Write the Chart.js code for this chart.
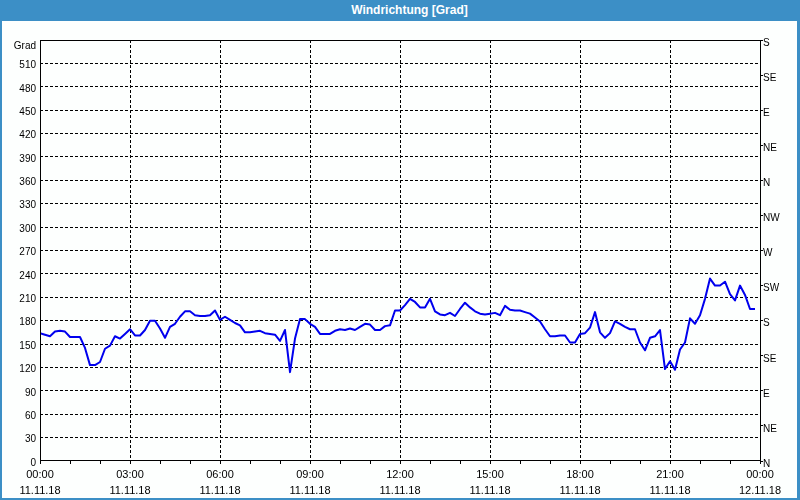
<!DOCTYPE html>
<html>
<head>
<meta charset="utf-8">
<script src="https://cdn.jsdelivr.net/npm/chart.js@4.4.1/dist/chart.umd.min.js"></script>
<style>
  html, body { margin:0; padding:0; background:#fdfffe; }
  #wrap { position:relative; width:800px; height:500px; overflow:hidden; background:#fdfffe; }
  #c { position:absolute; left:0; top:0; }
  #title { position:absolute; left:0; top:0; width:800px; height:21px; background:#3c8fc6; color:#fff;
           font:bold 12px "Liberation Sans", Arial, sans-serif; line-height:21px; text-align:center;
           box-sizing:border-box; padding-left:19px; }
  .b { position:absolute; background:#3c8fc6; }
</style>
</head>
<body>
<div id="wrap">
  <canvas id="c" width="800" height="500"></canvas>
  <div id="title">Windrichtung [Grad]</div>
  <div class="b" style="left:0;top:0;width:2px;height:500px"></div>
  <div class="b" style="left:797px;top:0;width:3px;height:500px"></div>
  <div class="b" style="left:0;top:498px;width:800px;height:2px"></div>
</div>
<script>
// ---- data ----
const sampleStartMin = 0;      // 00:00 11.11.18
const sampleStepMin = 10;      // one reading every 10 minutes
const windDirection = [
  164,162,160,166,167,166,159,159,159,145,123,123,127,144,148,160,157,163,169,161,161,168,180,180,
  170,158,172,176,185,192,192,187,186,186,187,193,181,185,181,177,174,165,165,166,167,164,163,162,
  154,168,114,157,182,182,176,172,163,163,163,167,169,168,170,168,172,176,175,168,168,173,174,193,
  193,200,208,204,197,197,208,192,188,187,190,186,195,203,197,192,189,188,189,190,187,199,194,193,
  193,191,189,184,179,169,160,160,161,161,152,152,163,164,171,191,165,158,164,179,176,172,169,169,
  152,142,158,160,168,118,128,117,143,152,183,176,187,208,234,225,225,230,214,206,225,213,195,195
];
const timeLabels = ['00:00','03:00','06:00','09:00','12:00','15:00','18:00','21:00','00:00'];
const dateLabels = ['11.11.18','11.11.18','11.11.18','11.11.18','11.11.18','11.11.18','11.11.18','11.11.18','12.11.18'];
const directionLabels = ['N','NE','E','SE','S','SW','W','NW','N','NE','E','SE','S'];
const axisUnit = 'Grad';

const points = windDirection.map((v, i) => ({ x: sampleStartMin + i * sampleStepMin, y: v }));
const FONT = '"Liberation Sans", Arial, sans-serif';
const DASH = [3, 2];

const framePlugin = {
  id: 'frame',
  beforeDraw(chart) {
    const c = chart.ctx;
    c.save();
    c.fillStyle = '#fdfffe';
    c.fillRect(0, 0, chart.width, chart.height);
    c.restore();
  },
  afterDraw(chart) {
    const c = chart.ctx, a = chart.chartArea;
    c.save();
    c.strokeStyle = '#000';
    c.lineWidth = 1;
    c.setLineDash([]);
    c.strokeRect(Math.round(a.left) + 0.5, Math.round(a.top) + 0.5,
                 Math.round(a.right - a.left), Math.round(a.bottom - a.top) - 1);
    c.fillStyle = '#000';
    c.font = '10px ' + FONT;
    c.textAlign = 'right';
    c.textBaseline = 'middle';
    c.fillText(axisUnit, a.left - 4, a.top + 6);
    c.restore();
  }
};

new Chart(document.getElementById('c').getContext('2d'), {
  type: 'line',
  data: { datasets: [{ data: points, borderColor: '#0000ee', borderWidth: 2, borderJoinStyle: 'round', pointRadius: 0, tension: 0, fill: false }] },
  options: {
    responsive: false,
    animation: false,
    events: [],
    layout: { padding: { top: 40, left: 0, right: 0, bottom: 0 } },
    plugins: { legend: { display: false }, tooltip: { enabled: false }, title: { display: false } },
    scales: {
      x: {
        type: 'linear', min: 0, max: 1440,
        afterFit(s) { s.height = 39; },
        ticks: {
          stepSize: 60, autoSkip: false, maxRotation: 0, minRotation: 0, padding: 3,
          color: '#000', font: { family: FONT, size: 11, lineHeight: 16 / 11 },
          callback: (v) => (v % 180 === 0) ? [timeLabels[v / 180], dateLabels[v / 180]] : ''
        },
        grid: {
          color: (ctx) => (ctx.tick && ctx.tick.value % 180 === 0 && ctx.tick.value > 0 && ctx.tick.value < 1440) ? '#000' : 'rgba(0,0,0,0)',
          lineWidth: 1, tickLength: 3, tickColor: '#000', tickWidth: 1
        },
        border: { display: false, dash: DASH }
      },
      y: {
        position: 'left', min: 0, max: 540,
        afterFit(s) { s.width = 40; },
        ticks: {
          stepSize: 30, padding: 4, labelOffset: 2, color: '#000', font: { family: FONT, size: 10 },
          callback: (v) => v === 540 ? '' : String(v)
        },
        grid: {
          drawTicks: false,
          color: (ctx) => (ctx.tick && ctx.tick.value > 0 && ctx.tick.value < 540) ? '#000' : 'rgba(0,0,0,0)',
          lineWidth: 1
        },
        border: { display: false, dash: DASH }
      },
      y2: {
        position: 'right', min: 0, max: 540,
        afterFit(s) { s.width = 40; },
        ticks: {
          stepSize: 45, padding: 0, labelOffset: 3, color: '#000', font: { family: FONT, size: 10 },
          callback: (v) => directionLabels[Math.round(v / 45)]
        },
        grid: { drawOnChartArea: false, tickLength: 3, tickColor: '#000', tickWidth: 1 },
        border: { display: false }
      }
    }
  },
  plugins: [framePlugin]
});
</script>
</body>
</html>
